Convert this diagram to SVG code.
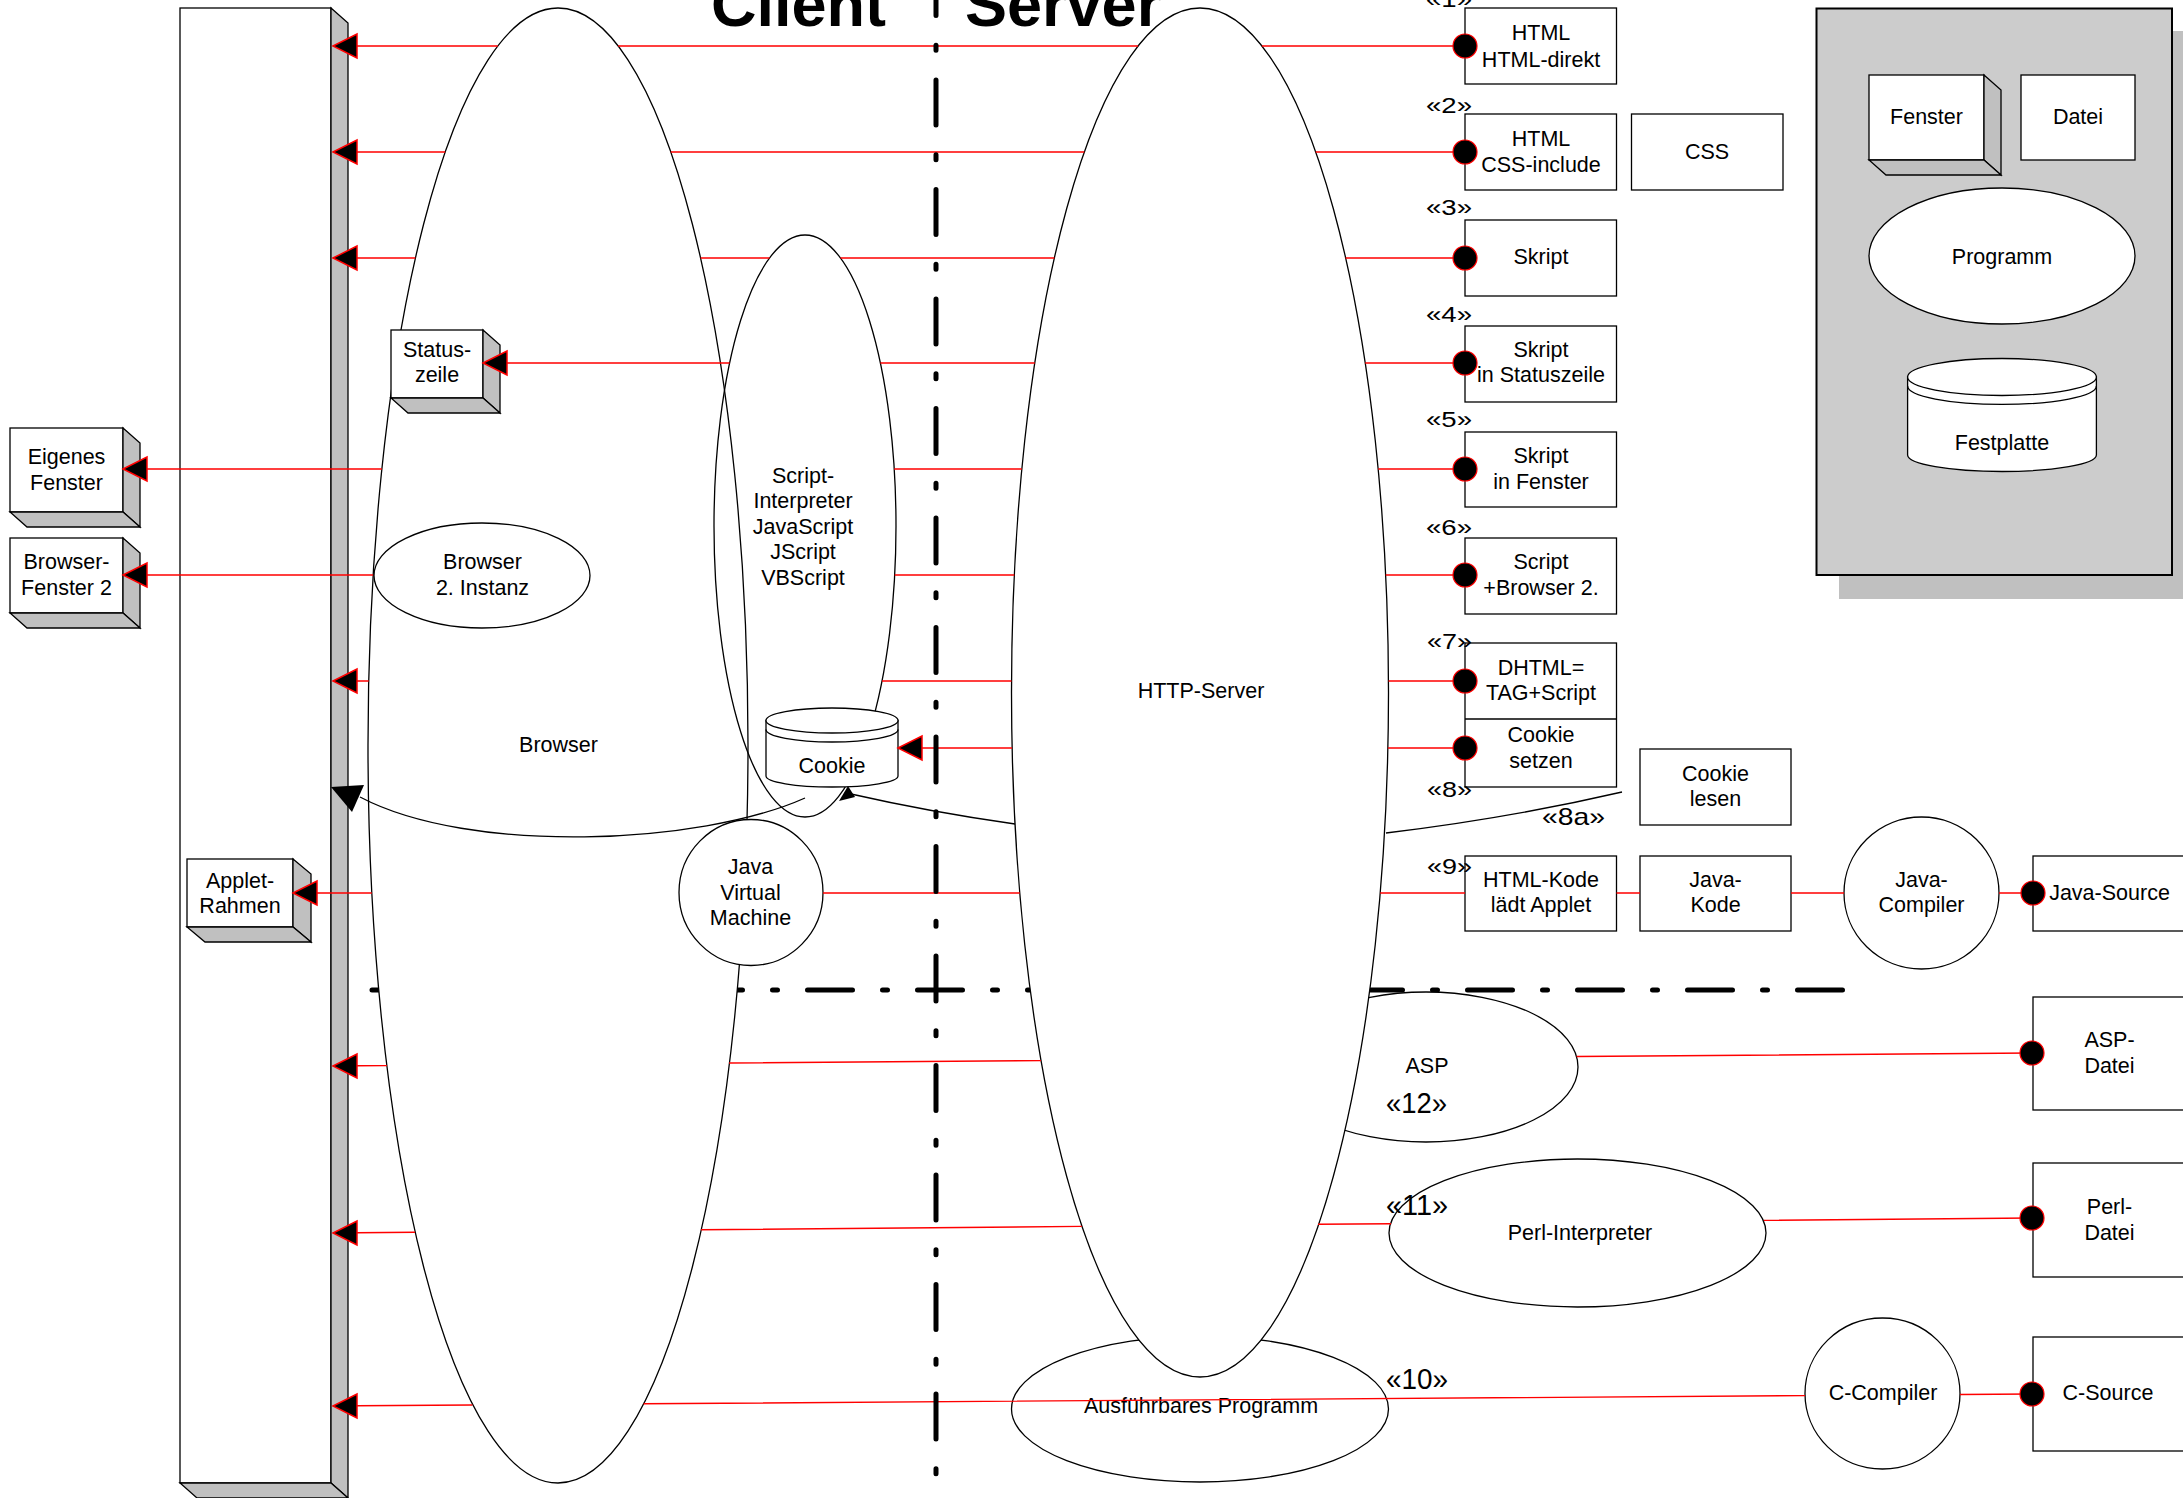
<svg xmlns="http://www.w3.org/2000/svg" xmlns:xlink="http://www.w3.org/1999/xlink" width="2183" height="1498" viewBox="0 0 2183 1498">
<style>
.t{font-family:"Liberation Sans",Arial,sans-serif;font-size:21.5px;fill:#000;text-anchor:middle}
.lb{font-family:"Liberation Sans",Arial,sans-serif;font-size:21.5px;fill:#000}
.big{font-family:"Liberation Sans",Arial,sans-serif;font-size:29px;fill:#000}
.title{font-family:"Liberation Sans",Arial,sans-serif;font-size:63px;font-weight:bold;fill:#000}
.o{fill:#fff;stroke:#000;stroke-width:1.3}
.n{fill:none;stroke:#000;stroke-width:1.3}
.side{fill:#c0c0c0;stroke:#000;stroke-width:1.3}
.rl{stroke:#ff0000;stroke-width:1.4;fill:none}
.ah{fill:#000;stroke:#ff0000;stroke-width:1.5}
.dot{fill:#000;stroke:#ff0000;stroke-width:1.2}
.dash{stroke:#000;stroke-width:5;stroke-linecap:round;fill:none}
.cv{fill:none;stroke:#000;stroke-width:1.3}
</style>
<defs>
<path id="ah" class="ah" d="M0,0 L24,-12 L24,12 Z"/>
<circle id="dt" class="dot" r="12"/>
</defs>
<rect width="2183" height="1498" fill="#fff"/>

<!-- top-right legend -->
<g id="legend">
<rect x="1839" y="31" width="360" height="568" fill="#c0c0c0"/>
<rect x="1816.5" y="8.5" width="355.5" height="566.5" fill="#cccccc" stroke="#000" stroke-width="2"/>
<g id="legend-fenster">
<rect x="1869" y="75" width="115" height="85" class="o"/>
<polygon points="1984,75 2001,90 2001,175 1984,160" class="side"/>
<polygon points="1869,160 1984,160 2001,175 1886,175" class="side"/>
<text class="t" x="1926.5" y="124">Fenster</text>
</g>
<g id="legend-datei">
<rect x="2021" y="75" width="114" height="85" class="o"/>
<text class="t" x="2078" y="124">Datei</text>
</g>
<g id="legend-programm">
<ellipse cx="2002" cy="256" rx="133" ry="68" class="o"/>
<text class="t" x="2002" y="264">Programm</text>
</g>
<g id="legend-festplatte">
<path class="o" d="M1907.6,377 V455 A94.4,16.5 0 0 0 2096.4,455 V377 Z"/>
<ellipse cx="2002" cy="377" rx="94.4" ry="18.5" class="o"/>
<path class="n" d="M1907.6,386 A94.4,18.5 0 0 0 2096.4,386"/>
<text class="t" x="2002" y="450">Festplatte</text>
</g>
</g>

<!-- title -->
<g id="title">
<text class="title" x="711" y="26">Client</text>
<text class="title" x="965" y="26">Server</text>
</g>

<!-- horizontal separator (behind ellipses) -->
<path class="dash" d="M1842.5,990 H372" stroke-dasharray="45 30 5 30"/>

<!-- left panel -->
<g id="client-panel">
<rect x="180" y="8" width="151" height="1475" class="o"/>
<polygon points="331,8 348,23 348,1498 331,1483" class="side"/>
<polygon points="180,1483 331,1483 348,1498 197,1498" class="side"/>
</g>

<g id="eigenes-fenster">
<rect x="10" y="428" width="113" height="84" class="o"/>
<polygon points="123,428 140,443 140,527 123,512" class="side"/>
<polygon points="10,512 123,512 140,527 27,527" class="side"/>
<text class="t" x="66.5" y="464">Eigenes</text>
<text class="t" x="66.5" y="489.5">Fenster</text>
</g>
<g id="browser-fenster-2">
<rect x="10" y="538" width="113" height="75" class="o"/>
<polygon points="123,538 140,553 140,628 123,613" class="side"/>
<polygon points="10,613 123,613 140,628 27,628" class="side"/>
<text class="t" x="66.5" y="569">Browser-</text>
<text class="t" x="66.5" y="594.5">Fenster 2</text>
</g>
<g id="applet-rahmen">
<rect x="187" y="859" width="106" height="68" class="o"/>
<polygon points="293,859 311,874 311,942 293,927" class="side"/>
<polygon points="187,927 293,927 311,942 205,942" class="side"/>
<text class="t" x="240" y="887.5">Applet-</text>
<text class="t" x="240" y="912.5">Rahmen</text>
</g>

<!-- server side ellipses -->
<g id="ausfuehrbares-programm">
<ellipse cx="1200" cy="1409" rx="188.5" ry="73" class="o"/>
<text class="t" x="1201" y="1413">Ausführbares Programm</text>
</g>
<g id="asp">
<ellipse cx="1426" cy="1067" rx="152" ry="75" class="o"/>
<text class="t" x="1427" y="1073">ASP</text>
<text class="big" x="1386" y="1113" textLength="61" lengthAdjust="spacingAndGlyphs">«12»</text>
</g>
<g id="http-server">
<ellipse cx="1200" cy="692.5" rx="188.5" ry="684.5" class="o"/>
<text class="t" x="1201" y="698">HTTP-Server</text>
</g>
<g id="perl-interpreter">
<ellipse cx="1577.5" cy="1233" rx="188.5" ry="74" class="o"/>
<text class="t" x="1580" y="1240">Perl-Interpreter</text>
<text class="big" x="1386" y="1215" textLength="62" lengthAdjust="spacingAndGlyphs">«11»</text>
</g>
<text class="big" x="1386" y="1389" textLength="62" lengthAdjust="spacingAndGlyphs">«10»</text>
<g id="java-compiler">
<ellipse cx="1921.5" cy="893" rx="77.5" ry="76" class="o"/>
<text class="t" x="1921.5" y="887">Java-</text>
<text class="t" x="1921.5" y="912">Compiler</text>
</g>
<g id="c-compiler">
<ellipse cx="1882.5" cy="1393.5" rx="77.5" ry="75.5" class="o"/>
<text class="t" x="1883" y="1400">C-Compiler</text>
</g>

<!-- client side -->
<g id="browser">
<ellipse cx="558" cy="745.5" rx="190" ry="737.5" class="o"/>
<text class="t" x="558.5" y="751.5">Browser</text>
</g>
<g id="script-interpreter">
<ellipse cx="805" cy="526" rx="91" ry="291" class="n"/>
<text class="t" x="803" y="482.5">Script-</text>
<text class="t" x="803" y="508">Interpreter</text>
<text class="t" x="803" y="533.5">JavaScript</text>
<text class="t" x="803" y="559">JScript</text>
<text class="t" x="803" y="584.5">VBScript</text>
</g>
<g id="browser-2-instanz">
<ellipse cx="482" cy="575.5" rx="108" ry="52.5" class="o"/>
<text class="t" x="482.5" y="569">Browser</text>
<text class="t" x="482.5" y="594.5">2. Instanz</text>
</g>
<g id="jvm">
<ellipse cx="751" cy="892.5" rx="72" ry="73" class="o"/>
<text class="t" x="750.5" y="874">Java</text>
<text class="t" x="750.5" y="899.5">Virtual</text>
<text class="t" x="750.5" y="925">Machine</text>
</g>
<g id="statuszeile">
<rect x="391" y="330" width="92" height="68" class="o"/>
<polygon points="483,330 500,345 500,413 483,398" class="side"/>
<polygon points="391,398 483,398 500,413 408,413" class="side"/>
<text class="t" x="437" y="356.5">Status-</text>
<text class="t" x="437" y="382">zeile</text>
</g>
<g id="cookie">
<path class="o" d="M766,720.5 V776 A66,11 0 0 0 898,776 V720.5 Z"/>
<ellipse cx="832" cy="720.5" rx="66" ry="12.5" class="o"/>
<path class="n" d="M766,729.5 A66,12.5 0 0 0 898,729.5"/>
<text class="t" x="832" y="773">Cookie</text>
</g>

<!-- right column boxes -->
<g id="html-direkt">
<rect x="1465" y="8" width="151.5" height="76" class="o"/>
<text class="t" x="1541" y="40">HTML</text>
<text class="t" x="1541" y="66.5">HTML-direkt</text>
<text class="lb" x="1426" y="7" textLength="46" lengthAdjust="spacingAndGlyphs">«1»</text>
</g>
<g id="html-css">
<rect x="1465" y="114" width="151.5" height="76" class="o"/>
<text class="t" x="1541" y="146">HTML</text>
<text class="t" x="1541" y="171.5">CSS-include</text>
<text class="lb" x="1426" y="113" textLength="46" lengthAdjust="spacingAndGlyphs">«2»</text>
</g>
<g id="css">
<rect x="1631.5" y="114" width="151.5" height="76" class="o"/>
<text class="t" x="1707" y="159">CSS</text>
</g>
<g id="skript">
<rect x="1465" y="220" width="151.5" height="76" class="o"/>
<text class="t" x="1541" y="264">Skript</text>
<text class="lb" x="1426" y="215" textLength="46" lengthAdjust="spacingAndGlyphs">«3»</text>
</g>
<g id="skript-statuszeile">
<rect x="1465" y="326" width="151.5" height="76" class="o"/>
<text class="t" x="1541" y="356.5">Skript</text>
<text class="t" x="1541" y="382">in Statuszeile</text>
<text class="lb" x="1426" y="322" textLength="46" lengthAdjust="spacingAndGlyphs">«4»</text>
</g>
<g id="skript-fenster">
<rect x="1465" y="432" width="151.5" height="75" class="o"/>
<text class="t" x="1541" y="463">Skript</text>
<text class="t" x="1541" y="489">in Fenster</text>
<text class="lb" x="1426" y="427" textLength="46" lengthAdjust="spacingAndGlyphs">«5»</text>
</g>
<g id="script-browser2">
<rect x="1465" y="538" width="151.5" height="76" class="o"/>
<text class="t" x="1541" y="569">Script</text>
<text class="t" x="1541" y="594.5">+Browser 2.</text>
<text class="lb" x="1426" y="535" textLength="46" lengthAdjust="spacingAndGlyphs">«6»</text>
</g>
<g id="dhtml">
<rect x="1465" y="643" width="151.5" height="144" class="o"/>
<line x1="1465" y1="719" x2="1616.5" y2="719" stroke="#000" stroke-width="1.3"/>
<text class="t" x="1541" y="674.5">DHTML=</text>
<text class="t" x="1541" y="700">TAG+Script</text>
<text class="t" x="1541" y="742">Cookie</text>
<text class="t" x="1541" y="768">setzen</text>
<text class="lb" x="1427" y="649" textLength="45" lengthAdjust="spacingAndGlyphs">«7»</text>
<text class="lb" x="1427" y="797" textLength="45" lengthAdjust="spacingAndGlyphs">«8»</text>
</g>
<g id="cookie-lesen">
<rect x="1640" y="749" width="151" height="76" class="o"/>
<text class="t" x="1715.5" y="781">Cookie</text>
<text class="t" x="1715.5" y="806">lesen</text>
<text class="lb" x="1542" y="825" textLength="63" lengthAdjust="spacingAndGlyphs" style="font-size:24px">«8a»</text>
</g>
<g id="html-applet">
<rect x="1465" y="856" width="151.5" height="75" class="o"/>
<text class="t" x="1541" y="887">HTML-Kode</text>
<text class="t" x="1541" y="912">lädt Applet</text>
<text class="lb" x="1427" y="874" textLength="45" lengthAdjust="spacingAndGlyphs">«9»</text>
</g>
<g id="java-kode">
<rect x="1640" y="856" width="151" height="75" class="o"/>
<text class="t" x="1715.5" y="887">Java-</text>
<text class="t" x="1715.5" y="912">Kode</text>
</g>
<g id="java-source">
<rect x="2033" y="856" width="170" height="75" class="o"/>
<text class="t" x="2109.5" y="900">Java-Source</text>
</g>
<g id="asp-datei">
<rect x="2033" y="997" width="170" height="113" class="o"/>
<text class="t" x="2109.5" y="1047">ASP-</text>
<text class="t" x="2109.5" y="1073">Datei</text>
</g>
<g id="perl-datei">
<rect x="2033" y="1163" width="170" height="114" class="o"/>
<text class="t" x="2109.5" y="1214">Perl-</text>
<text class="t" x="2109.5" y="1240">Datei</text>
</g>
<g id="c-source">
<rect x="2033" y="1337" width="170" height="114" class="o"/>
<text class="t" x="2108" y="1400">C-Source</text>
</g>

<!-- connectors -->
<g id="connectors">
<path class="rl" d="M357,46H497.8 M618.2,46H1138.1 M1261.9,46H1465"/>
<path class="rl" d="M357,152H445.2 M670.8,152H1084.3 M1315.7,152H1465"/>
<path class="rl" d="M357,258H415.4 M700.6,258H769.5 M840.5,258H1054.4 M1345.6,258H1465"/>
<path class="rl" d="M507,363H729.6 M880.4,363H1034.8 M1365.2,363H1465"/>
<path class="rl" d="M147,469H381.9 M894.2,469H1021.8 M1378.2,469H1465"/>
<path class="rl" d="M147,575H373.1 M894.7,575H1014.3 M1385.7,575H1465"/>
<path class="rl" d="M357,681H368.7 M882,681H1011.5 M1388.5,681H1465"/>
<path class="rl" d="M922,748H1012.1 M1387.9,748H1465"/>
<path class="rl" d="M317,893H371.8 M823,893H1019.8 M1380.2,893H1465 M1616.5,893H1640 M1791,893H1844 M1999,893H2033"/>
<path class="rl" d="M357,1065.8L386.9,1065.6 M729.1,1063L1041,1060.6 M1576.6,1056.5L2032,1053"/>
<path class="rl" d="M357,1232.8L415,1232.3 M701,1229.8L1081.9,1226.4 M1318.1,1224.3L1391.1,1223.7 M1763.9,1220.4L2032,1218"/>
<path class="rl" d="M357,1405.8L472.4,1405 M643.6,1403.8L1805,1395.6 M1960,1394.5L2032,1394"/>

<use xlink:href="#ah" href="#ah" x="333" y="46"/>
<use xlink:href="#ah" href="#ah" x="333" y="152"/>
<use xlink:href="#ah" href="#ah" x="333" y="258"/>
<use xlink:href="#ah" href="#ah" x="333" y="681"/>
<use xlink:href="#ah" href="#ah" x="333" y="1066"/>
<use xlink:href="#ah" href="#ah" x="333" y="1233"/>
<use xlink:href="#ah" href="#ah" x="333" y="1406"/>
<use xlink:href="#ah" href="#ah" x="483" y="363"/>
<use xlink:href="#ah" href="#ah" x="123" y="469"/>
<use xlink:href="#ah" href="#ah" x="123" y="575"/>
<use xlink:href="#ah" href="#ah" x="293" y="893"/>
<use xlink:href="#ah" href="#ah" x="898" y="748"/>

<use xlink:href="#dt" href="#dt" x="1465" y="46"/>
<use xlink:href="#dt" href="#dt" x="1465" y="152"/>
<use xlink:href="#dt" href="#dt" x="1465" y="258"/>
<use xlink:href="#dt" href="#dt" x="1465" y="363"/>
<use xlink:href="#dt" href="#dt" x="1465" y="469"/>
<use xlink:href="#dt" href="#dt" x="1465" y="575"/>
<use xlink:href="#dt" href="#dt" x="1465" y="681"/>
<use xlink:href="#dt" href="#dt" x="1465" y="748"/>
<use xlink:href="#dt" href="#dt" x="2033" y="893"/>
<use xlink:href="#dt" href="#dt" x="2032" y="1053"/>
<use xlink:href="#dt" href="#dt" x="2032" y="1218"/>
<use xlink:href="#dt" href="#dt" x="2032" y="1394"/>

<!-- cookie to window curve -->
<path class="cv" d="M805,798 C700,845 470,855 360,797"/>
<polygon points="331,787 364,785 352,812" fill="#000"/>
<!-- 8a: cookie lesen -->
<path class="cv" d="M1622,792 Q1510,818 1386,833"/>
<path class="cv" d="M1015,824 Q930,812 851,794"/>
<polygon points="848,786 839,801 855,797" fill="#000"/>
</g>

<!-- vertical client/server separator -->
<path class="dash" d="M936,-29.5 V1474" stroke-dasharray="45 29.75 5 29.75"/>
</svg>
